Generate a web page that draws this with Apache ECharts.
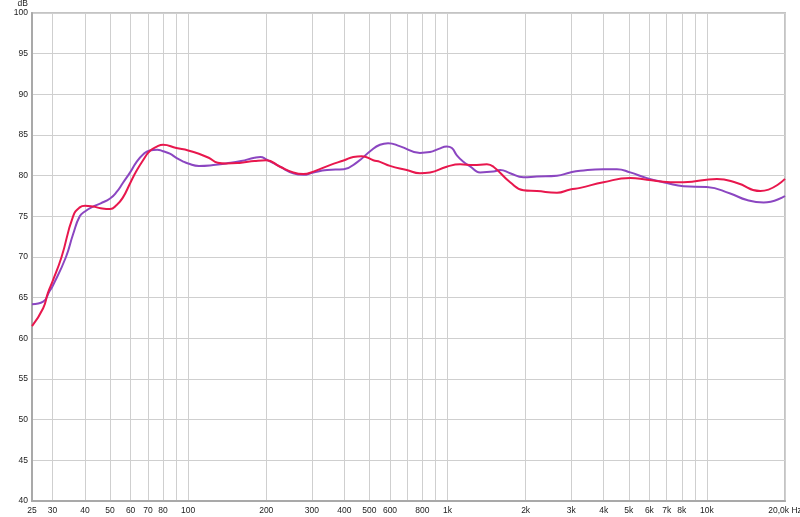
<!DOCTYPE html>
<html>
<head>
<meta charset="utf-8">
<script src="https://cdn.jsdelivr.net/npm/echarts@6/dist/echarts.min.js"></script>
<style>
html,body{margin:0;padding:0;background:#fff;}
#chart{width:800px;height:517px;}
</style>
</head>
<body>
<div id="chart"></div>
<script>
// Frequency response data (Hz, dB)
const purpleFreq = [25,27.6,29.2,30,33.8,36,38.2,40,43,46,50,53,56,60,63,67,71,76,80,85,90,95,100,110,125,140,160,180,190,200,226,254,278,304,343,398,450,507,549,590,657,783,856,925,993,1039,1086,1151,1227,1297,1335,1503,1595,1743,1962,2210,2641,2971,3247,3993,4498,5062,5872,7012,8128,10000,12300,14273,16543,20000];
const purpleDb   = [64.2,64.5,65.8,66.4,70.0,72.8,75.0,75.6,76.2,76.6,77.2,78.0,79.1,80.5,81.6,82.6,83.1,83.2,83.0,82.7,82.2,81.8,81.5,81.2,81.3,81.5,81.8,82.2,82.3,82.0,81.1,80.3,80.1,80.4,80.7,80.8,81.7,83.1,83.8,84.0,83.6,82.8,82.9,83.3,83.6,83.4,82.5,81.7,81.1,80.5,80.4,80.5,80.7,80.3,79.8,79.9,80.0,80.4,80.6,80.8,80.8,80.4,79.7,79.1,78.7,78.6,77.8,77.0,76.7,77.5];

const redFreq = [25,27.6,28.8,30,32.5,36,38.2,40,43,46,50,53,56,60,63,67,71,76,80,90,100,110,120,130,140,160,180,200,226,254,278,304,352,400,433,467,517,549,600,696,783,856,993,1118,1258,1418,1503,1743,1962,2210,2641,2971,3247,3993,5062,5872,7221,8128,10932,13060,16067,20000];
const redDb   = [61.5,63.7,65.6,67.0,70.0,75.0,76.1,76.3,76.2,76.0,75.9,76.4,77.3,79.2,80.5,81.9,83.0,83.6,83.8,83.4,83.1,82.7,82.2,81.6,81.5,81.6,81.8,81.9,81.1,80.4,80.2,80.5,81.3,81.9,82.3,82.4,81.9,81.7,81.2,80.7,80.3,80.4,81.1,81.4,81.3,81.4,81.1,79.2,78.2,78.1,77.9,78.3,78.5,79.2,79.7,79.5,79.2,79.2,79.6,79.1,78.1,79.6];

// Axis ticks
const gridFreqs = [25,30,40,50,60,70,80,90,100,200,300,400,500,600,700,800,900,1000,2000,3000,4000,5000,6000,7000,8000,9000,10000,20000];
const labelFreqs = [25,30,40,50,60,70,80,100,200,300,400,500,600,800,1000,2000,3000,4000,5000,6000,7000,8000,10000,20000];
const labelTexts = ['25','30','40','50','60','70','80','100','200','300','400','500','600','800','1k','2k','3k','4k','5k','6k','7k','8k','10k','20,0k Hz'];
const yMin = 40, yMax = 100, yStep = 5;

const lg = Math.log10;
const toPts = (fs, vs) => fs.map((f, i) => [lg(f), vs[i]]);
const labelMap = {};
labelFreqs.forEach((f, i) => { labelMap[Math.round(f)] = labelTexts[i]; });

const FONT = 'Liberation Sans, Arial, sans-serif';
const chart = echarts.init(document.getElementById('chart'), null, {renderer: 'canvas'});
chart.setOption({
  animation: false,
  backgroundColor: '#ffffff',
  grid: {left: 32, right: 15, top: 13, bottom: 16, containLabel: false, outerBoundsMode: 'none',
         show: true, borderColor: '#c4c4c4', borderWidth: 2, backgroundColor: 'transparent'},
  xAxis: {
    type: 'value',
    min: lg(25), max: lg(20000),
    axisLine: {show: true, lineStyle: {color: '#a9a9a9', width: 2}},
    axisTick: {show: false, customValues: gridFreqs.map(lg)},
    axisLabel: {
      customValues: labelFreqs.map(lg),
      margin: 5, hideOverlap: false,
      color: '#222', fontSize: 8.5, fontFamily: FONT,
      formatter: v => labelMap[Math.round(Math.pow(10, v))] || ''
    },
    splitLine: {show: true, lineStyle: {color: '#cfcfcf', width: 1}}
  },
  yAxis: {
    type: 'value',
    min: yMin, max: yMax, interval: yStep,
    name: 'dB', nameLocation: 'end', nameGap: 8,
    nameTextStyle: {color: '#222', fontSize: 8.5, fontFamily: FONT, align: 'right', verticalAlign: 'middle', padding: [0, 4, 0, 0]},
    axisLine: {show: true, lineStyle: {color: '#a9a9a9', width: 2}},
    axisTick: {show: false},
    axisLabel: {margin: 4, color: '#222', fontSize: 8.5, fontFamily: FONT},
    splitLine: {show: true, lineStyle: {color: '#cfcfcf', width: 1}}
  },
  series: [
    {type: 'line', name: 'purple', data: toPts(purpleFreq, purpleDb), showSymbol: false, smooth: 0.5,
     lineStyle: {color: '#8b46c1', width: 2}, itemStyle: {color: '#8b46c1'}},
    {type: 'line', name: 'red', data: toPts(redFreq, redDb), showSymbol: false, smooth: 0.5,
     lineStyle: {color: '#e8174d', width: 2}, itemStyle: {color: '#e8174d'}}
  ]
});
</script>
</body>
</html>
